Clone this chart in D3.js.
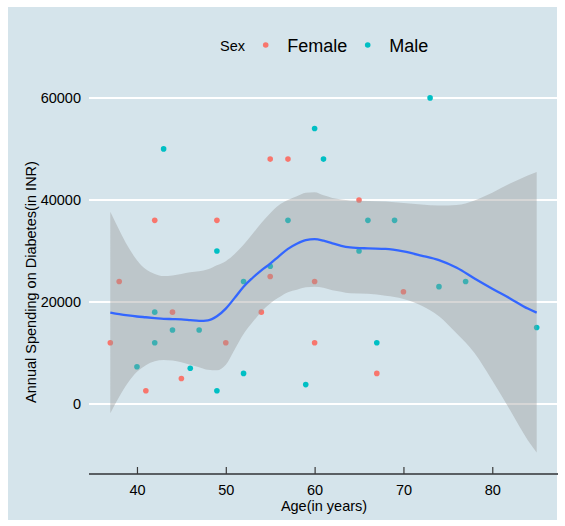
<!DOCTYPE html>
<html>
<head>
<meta charset="utf-8">
<script src="https://cdn.jsdelivr.net/npm/d3@7/dist/d3.min.js"></script>
<style>
  html, body { margin: 0; padding: 0; background: #ffffff; }
  svg { display: block; }
  text { font-family: "Liberation Sans", Arial, sans-serif; }
</style>
</head>
<body>
<svg id="chart" width="565" height="526"></svg>
<script>
// ---- data ----
const femaleAge   = [37, 38, 41, 42, 44, 45, 49, 50, 54, 55, 55, 57, 60, 60, 65, 67, 70];
const femaleSpend = [12000, 24000, 2600, 36000, 18000, 5000, 36000, 12000, 18000, 48000, 25000, 48000, 24000, 12000, 40000, 6000, 22000];

const maleAge   = [40, 42, 42, 43, 44, 46, 47, 49, 49, 52, 52, 55, 57, 59, 60, 61, 65, 66, 67, 69, 73, 74, 77, 85];
const maleSpend = [7300, 18000, 12000, 50000, 14500, 7000, 14500, 30000, 2600, 24000, 6000, 27000, 36000, 3800, 54000, 48000, 30000, 36000, 12000, 36000, 60000, 23000, 24000, 15000];

// loess smooth
const smoothAge   = [37, 38, 39, 40, 41, 42, 43, 44, 45, 46, 47, 48, 49, 50, 51, 52, 53, 54, 55, 56, 57, 58, 59, 60, 61, 62, 63, 64, 66, 68, 70, 72, 74, 76, 78, 80, 82, 84, 85];
const smoothFit   = [17900, 17600, 17350, 17150, 17000, 16850, 16700, 16650, 16600, 16450, 16300, 16400, 17200, 18700, 20800, 23000, 24700, 26200, 27500, 29000, 30400, 31400, 32100, 32300, 32000, 31500, 31000, 30700, 30500, 30400, 29900, 29100, 28200, 26700, 24600, 22600, 20700, 18700, 17900];
const smoothLower = [-1800, 1400, 4200, 6300, 7600, 8400, 8600, 8500, 8200, 7700, 7200, 6700, 6600, 7700, 10700, 13700, 16000, 18100, 19700, 20900, 21900, 22400, 22900, 23000, 22800, 22300, 22000, 21700, 21600, 21200, 20600, 19300, 17200, 13800, 10000, 4600, -1200, -7100, -9500];
const smoothUpper = [37700, 34100, 30800, 28200, 26400, 25500, 25100, 25200, 25500, 25800, 26000, 26400, 27200, 28000, 29400, 31200, 33300, 35500, 37400, 39000, 40000, 40700, 41400, 41500, 40900, 40400, 40100, 39900, 39800, 39700, 39400, 39100, 38900, 39000, 39900, 41400, 43200, 44800, 45500];

const xTicks = [40, 50, 60, 70, 80];
const yTicks = [0, 20000, 40000, 60000];
const sexes  = ["Female", "Male"];
const sexColors = ["#F8766D", "#00BFC4"];

// ---- layout ----
const svg = d3.select("#chart");
const panel = { left: 89, right: 558, top: 80, bottom: 474 };

const x = d3.scaleLinear().domain([34.6, 87.4]).range([panel.left, panel.right]);
const y = d3.scaleLinear().domain([-13725, 63510]).range([panel.bottom, panel.top]);
const color = d3.scaleOrdinal().domain(sexes).range(sexColors);

// background
svg.append("rect")
  .attr("x", 8).attr("y", 7).attr("width", 549).attr("height", 513)
  .attr("fill", "#d5e4eb");

// horizontal grid lines
svg.append("g")
  .selectAll("line")
  .data(yTicks)
  .join("line")
  .attr("x1", panel.left).attr("x2", panel.right)
  .attr("y1", d => y(d)).attr("y2", d => y(d))
  .attr("stroke", "#ffffff").attr("stroke-width", 2);

// y tick labels
svg.append("g")
  .selectAll("text")
  .data(yTicks)
  .join("text")
  .attr("x", 81)
  .attr("y", d => y(d) + 5)
  .attr("text-anchor", "end")
  .attr("font-size", 14.5)
  .attr("fill", "#000")
  .text(d => d3.format("d")(d));

// x axis
const xAxis = d3.axisBottom(x).tickValues(xTicks).tickSize(-7).tickPadding(11).tickFormat(d3.format("d"));
const gx = svg.append("g").attr("transform", `translate(0,${panel.bottom})`).call(xAxis);
gx.select(".domain").attr("stroke", "#5a5f63").attr("stroke-width", 2)
  .attr("d", `M${panel.left},0H${panel.right}`);
gx.selectAll(".tick line").attr("stroke", "#3a3a3a").attr("stroke-width", 1.2);
gx.selectAll(".tick text")
  .attr("font-size", 14.5)
  .attr("font-family", "Liberation Sans, Arial, sans-serif")
  .attr("fill", "#000");

// axis titles
svg.append("text")
  .attr("x", (panel.left + panel.right) / 2 + 0.5)
  .attr("y", 511)
  .attr("text-anchor", "middle")
  .attr("font-size", 14.5)
  .attr("fill", "#000")
  .text("Age(in years)");

svg.append("text")
  .attr("transform", `translate(36,${(panel.top + panel.bottom) / 2 + 5}) rotate(-90)`)
  .attr("text-anchor", "middle")
  .attr("font-size", 14.5)
  .attr("fill", "#000")
  .text("Annual Spending on Diabetes(in INR)");

// points
const pts = [];
femaleAge.forEach((a, i) => pts.push({ age: a, spend: femaleSpend[i], sex: "Female" }));
maleAge.forEach((a, i) => pts.push({ age: a, spend: maleSpend[i], sex: "Male" }));

svg.append("g")
  .selectAll("circle")
  .data(pts)
  .join("circle")
  .attr("cx", d => x(d.age))
  .attr("cy", d => y(d.spend))
  .attr("r", 2.8)
  .attr("fill", d => color(d.sex));

// smooth ribbon + line
const sm = smoothAge.map((a, i) => ({ age: a, fit: smoothFit[i], lo: smoothLower[i], hi: smoothUpper[i] }));

svg.append("path")
  .datum(sm)
  .attr("d", d3.area().curve(d3.curveMonotoneX)
    .x(d => x(d.age)).y0(d => y(d.lo)).y1(d => y(d.hi)))
  .attr("fill", "#999999").attr("fill-opacity", 0.4);

svg.append("path")
  .datum(sm)
  .attr("d", d3.line().curve(d3.curveMonotoneX)
    .x(d => x(d.age)).y(d => y(d.fit)))
  .attr("fill", "none").attr("stroke", "#3366FF").attr("stroke-width", 2.3);

// legend
const lg = svg.append("g");
lg.append("text").attr("x", 220).attr("y", 51).attr("font-size", 14.5).attr("fill", "#000").text("Sex");
const legendX = [265.7, 367.7];
sexes.forEach((s, i) => {
  lg.append("circle").attr("cx", legendX[i]).attr("cy", 45).attr("r", 2.8).attr("fill", color(s));
  lg.append("text").attr("x", legendX[i] + 21.5).attr("y", 52).attr("font-size", 18).attr("fill", "#000").text(s);
});
</script>
</body>
</html>
